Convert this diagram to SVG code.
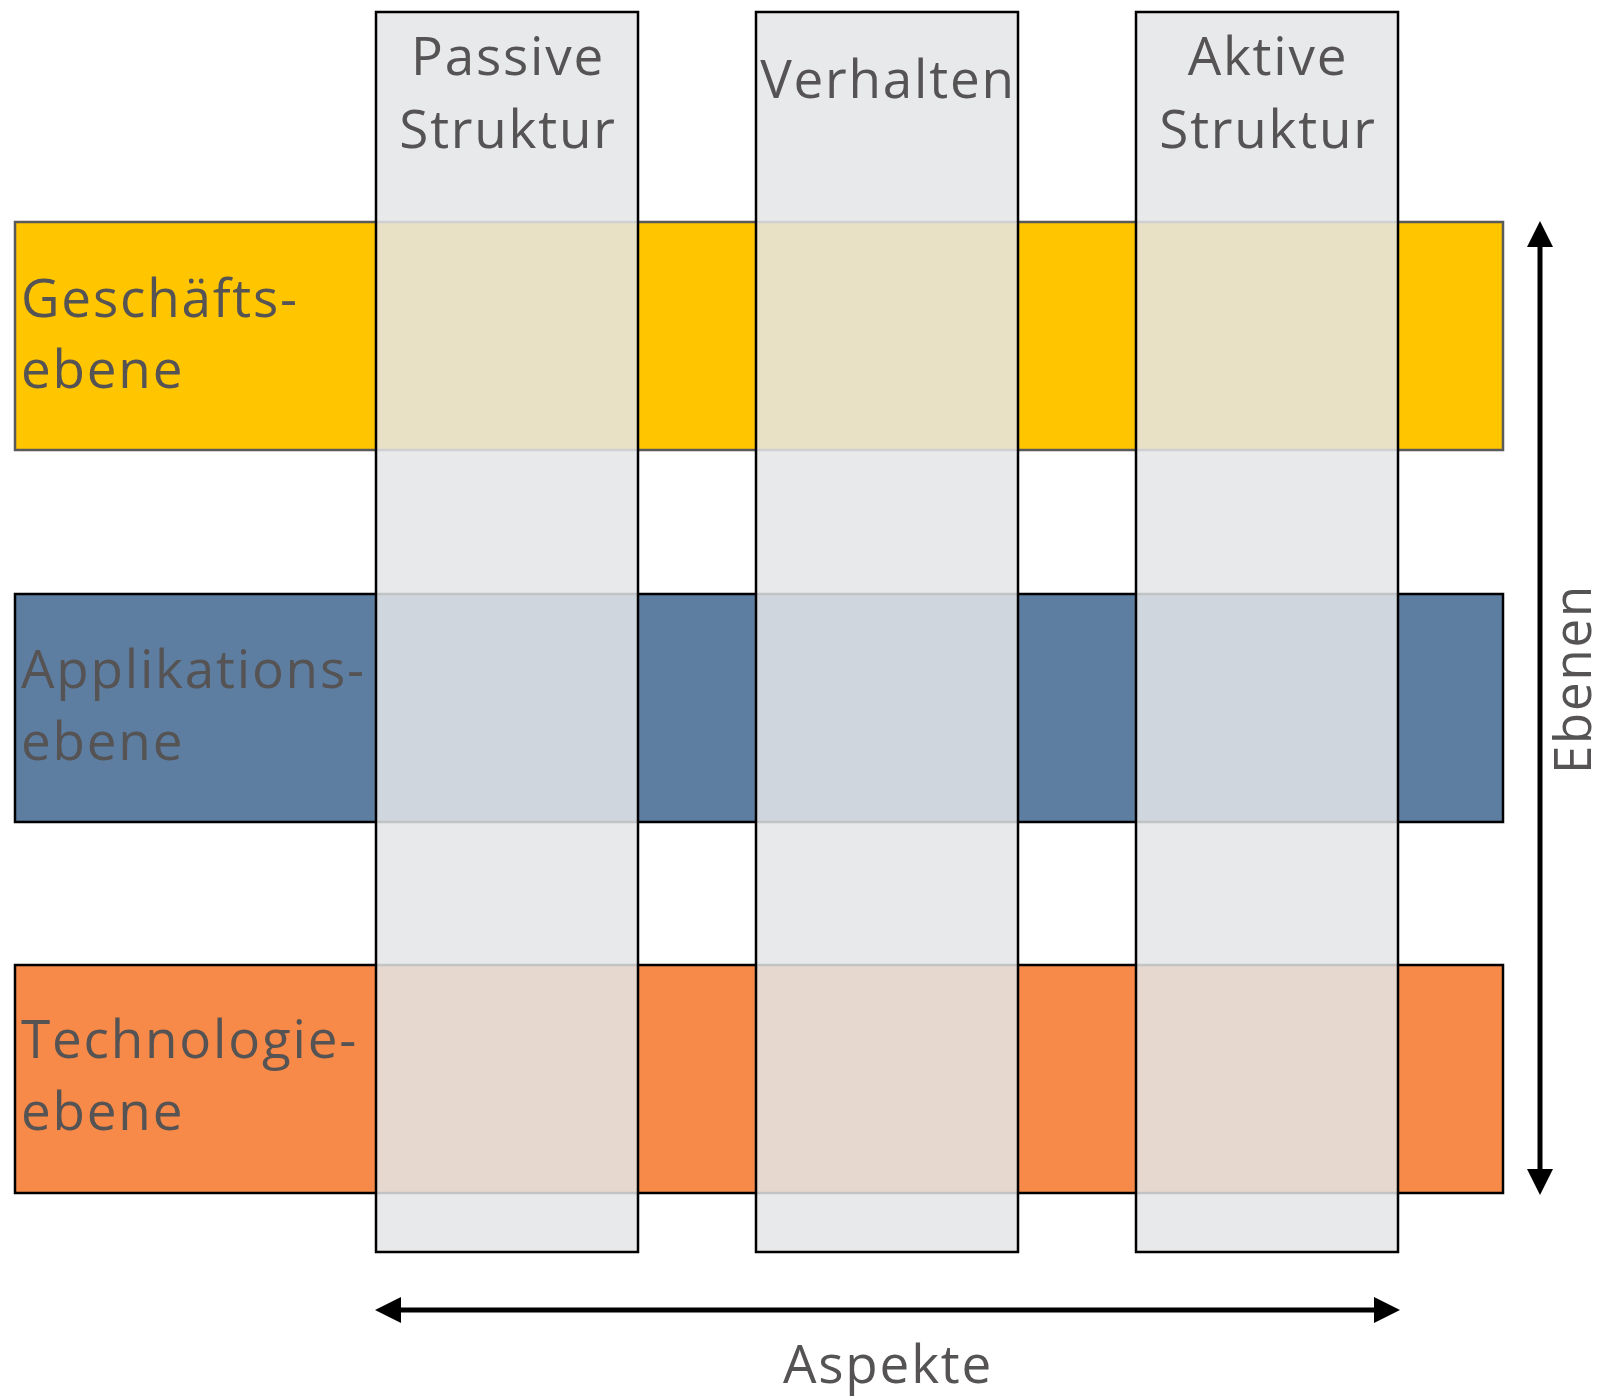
<svg xmlns="http://www.w3.org/2000/svg" width="1605" height="1396" viewBox="0 0 1605 1396">
  <defs>
    <style>
      .lbl { font-family: "Open Sans", "Noto Sans", sans-serif; font-size: 53px; fill: #555354; letter-spacing: 1.8px; }
      .band { stroke-width: 2.5; }
      .col { fill: #E4E5E7; fill-opacity: 0.85; stroke: #000; stroke-width: 2.5; }
      .axis { stroke: #000; stroke-width: 5; fill: none; }
    </style>
    <marker id="head" markerUnits="userSpaceOnUse" markerWidth="26" markerHeight="26" refX="6" refY="13" orient="auto-start-reverse">
      <path d="M0,0 L26,13 L0,26 Z" fill="#000"/>
    </marker>
  </defs>
  <rect width="1605" height="1396" fill="#fff"/>

  <!-- layer bands -->
  <g id="layer-business">
    <rect class="band" x="15" y="222" width="1488" height="228" fill="#FFC600" stroke="#5a5a5a"/>
    <text class="lbl" x="21" y="317">Geschäfts-</text>
    <text class="lbl" x="21" y="388">ebene</text>
  </g>
  <g id="layer-application">
    <rect class="band" x="15" y="594" width="1488" height="228" fill="#5E7EA1" stroke="#000"/>
    <text class="lbl" x="21" y="688">Applikations-</text>
    <text class="lbl" x="21" y="760">ebene</text>
  </g>
  <g id="layer-technology">
    <rect class="band" x="15" y="965" width="1488" height="228" fill="#F78A48" stroke="#000"/>
    <text class="lbl" x="21" y="1058">Technologie-</text>
    <text class="lbl" x="21" y="1130">ebene</text>
  </g>

  <!-- aspect columns (translucent, on top of the bands) -->
  <g id="aspect-passive">
    <rect class="col" x="376" y="12" width="262" height="1240"/>
    <text class="lbl" x="508" y="75" text-anchor="middle">Passive</text>
    <text class="lbl" x="508" y="148" text-anchor="middle">Struktur</text>
  </g>
  <g id="aspect-behaviour">
    <rect class="col" x="756" y="12" width="262" height="1240"/>
    <text class="lbl" x="888" y="98" text-anchor="middle">Verhalten</text>
  </g>
  <g id="aspect-active">
    <rect class="col" x="1136" y="12" width="262" height="1240"/>
    <text class="lbl" x="1268" y="75" text-anchor="middle">Aktive</text>
    <text class="lbl" x="1268" y="148" text-anchor="middle">Struktur</text>
  </g>

  <!-- axes -->
  <g id="connectors">
    <line class="axis" x1="1540" y1="241" x2="1540" y2="1175" marker-start="url(#head)" marker-end="url(#head)"/>
    <line class="axis" x1="395" y1="1310" x2="1380" y2="1310" marker-start="url(#head)" marker-end="url(#head)"/>
  </g>
  <g id="axis-labels">
    <text class="lbl" x="888" y="1383" text-anchor="middle">Aspekte</text>
    <text class="lbl" style="font-size:51px" transform="translate(1591,679) rotate(-90)" text-anchor="middle">Ebenen</text>
  </g>
</svg>
